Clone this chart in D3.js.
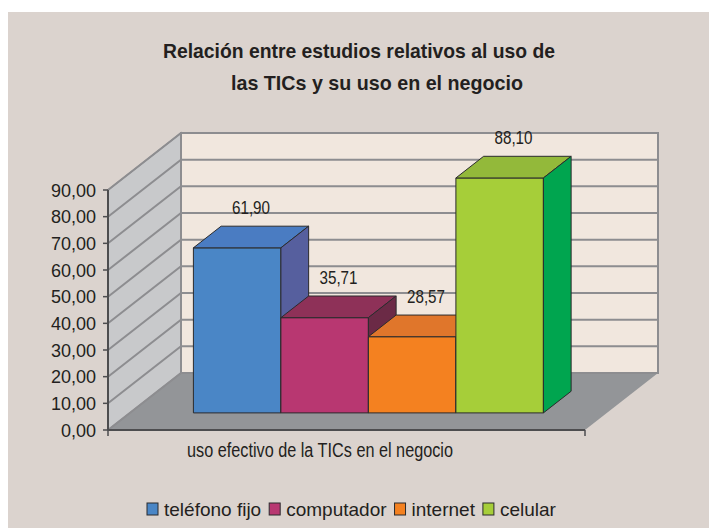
<!DOCTYPE html>
<html>
<head>
<meta charset="utf-8">
<script src="https://cdn.jsdelivr.net/npm/d3@7"></script>
<style>
  body { margin: 0; background: #fff; }
  text { fill: #231f20; }
</style>
</head>
<body>
<svg id="svg"></svg>
<script>
// data
const titleLines = ["Relación entre estudios relativos al uso de", "las TICs y su uso en el negocio"]
const category = "uso efectivo de la TICs en el negocio"
const series = ["teléfono fijo", "computador", "internet", "celular"]
const values = [61.90, 35.71, 28.57, 88.10]
const yTicks = [0, 10, 20, 30, 40, 50, 60, 70, 80, 90]

const frontColors = ["#4a86c6", "#b83771", "#f48120", "#a6ce39"]
const topColors = ["#4a7cc2", "#8e3158", "#e0762b", "#93b93a"]
const sideColors = ["#565f9e", "#6b2a46", "#c5621c", "#00a54f"]

const W = 709, H = 528
const font = "'Liberation Sans', Arial, sans-serif"
const svg = d3.select("#svg").attr("width", W).attr("height", H)

svg.append("rect").attr("x", 8).attr("y", 12).attr("width", W - 8).attr("height", H - 12)
    .attr("fill", "#dbd3ce")

// 3d frame
const x0 = 108, x1 = 585
const depthX = 73, depthY = -57
const y = d3.scaleLinear().domain([0, 90]).range([430, 190])
const fFront = 0.3, fBack = 0.68

const pt = (x, yy, f) => [x + f * depthX, yy + f * depthY]
const poly = pts => "M" + pts.map(p => p.join(",")).join("L") + "Z"

const gridColor = "#8d8d90"

// floor
svg.append("path")
    .attr("d", poly([pt(x0, y(0), 0), pt(x1, y(0), 0), pt(x1, y(0), 1), pt(x0, y(0), 1)]))
    .attr("fill", "#939598")

// left wall
svg.append("path")
    .attr("d", poly([pt(x0, y(0), 0), pt(x0, y(90), 0), pt(x0, y(90), 1), pt(x0, y(0), 1)]))
    .attr("fill", "#c8c9cb").attr("stroke", gridColor).attr("stroke-width", 1.5)

// back wall
svg.append("path")
    .attr("d", poly([pt(x0, y(0), 1), pt(x0, y(90), 1), pt(x1, y(90), 1), pt(x1, y(0), 1)]))
    .attr("fill", "#f1e7de").attr("stroke", gridColor).attr("stroke-width", 2)

// grid lines
yTicks.forEach(t => {
    const a = pt(x0, y(t), 0), b = pt(x0, y(t), 1), c = pt(x1, y(t), 1)
    svg.append("path").attr("d", `M${a}L${b}L${c}`)
        .attr("fill", "none").attr("stroke", gridColor).attr("stroke-width", 2)
})

// axes
const axisColor = "#4d4d4f"
svg.append("line").attr("x1", x0).attr("x2", x0).attr("y1", y(0)).attr("y2", y(90))
    .attr("stroke", axisColor).attr("stroke-width", 2)
svg.append("line").attr("x1", x0).attr("x2", x1).attr("y1", y(0)).attr("y2", y(0))
    .attr("stroke", axisColor).attr("stroke-width", 2)
;[x0, x1].forEach(xx => {
    svg.append("line").attr("x1", xx).attr("x2", xx).attr("y1", y(0)).attr("y2", y(0) + 6)
        .attr("stroke", axisColor).attr("stroke-width", 1.5)
})

const fmt = v => d3.format(".2f")(v).replace(".", ",")

yTicks.forEach(t => {
    svg.append("line").attr("x1", x0 - 5).attr("x2", x0).attr("y1", y(t)).attr("y2", y(t))
        .attr("stroke", axisColor).attr("stroke-width", 1.5)
    svg.append("text").attr("x", x0 - 12).attr("y", y(t) + 6.5)
        .attr("text-anchor", "end")
        .attr("font-family", font).attr("font-size", 18)
        .text(fmt(t))
})

// bars
const xb = d3.scaleBand().domain(series).range([171.5, 521.5])

series.forEach((s, i) => {
    const left = xb(s), right = left + xb.bandwidth()
    const v = values[i]
    const fb = pt(left, y(0), fFront), fr = pt(right, y(0), fFront)
    const ft = pt(left, y(v), fFront), frt = pt(right, y(v), fFront)
    const bt = pt(left, y(v), fBack), brt = pt(right, y(v), fBack)
    const brb = pt(right, y(0), fBack)
    const g = svg.append("g").attr("stroke", "#2b2b2d").attr("stroke-width", 1).attr("stroke-linejoin", "round")
    g.append("path").attr("d", poly([fb, ft, frt, fr])).attr("fill", frontColors[i])
    g.append("path").attr("d", poly([ft, bt, brt, frt])).attr("fill", topColors[i])
    g.append("path").attr("d", poly([fr, frt, brt, brb])).attr("fill", sideColors[i])

    const cx = (left + right) / 2 + ((fFront + fBack) / 2) * depthX
    svg.append("text").attr("x", cx - 19).attr("y", bt[1] - 12.5)
        .attr("font-family", font).attr("font-size", 18)
        .attr("textLength", 38).attr("lengthAdjust", "spacingAndGlyphs")
        .text(fmt(v))
})

// category label
svg.append("text").attr("x", 187).attr("y", 457)
    .attr("font-family", font).attr("font-size", 20)
    .attr("textLength", 266).attr("lengthAdjust", "spacingAndGlyphs")
    .text(category)

// title
const titleX = [163, 231], titleW = [392, 292]
titleLines.forEach((t, i) => {
    svg.append("text").attr("x", titleX[i]).attr("y", 58 + i * 32)
        .attr("font-family", font)
        .attr("font-weight", "bold").attr("font-size", 21)
        .attr("textLength", titleW[i]).attr("lengthAdjust", "spacingAndGlyphs")
        .text(t)
})

// legend
let lx = 147
const ly = 509
series.forEach((s, i) => {
    svg.append("rect").attr("x", lx).attr("y", ly - 6).attr("width", 11).attr("height", 12)
        .attr("fill", frontColors[i]).attr("stroke", "#2b2b2d").attr("stroke-width", 1)
    const tx = svg.append("text").attr("x", lx + 17).attr("y", ly + 6.5)
        .attr("font-family", font).attr("font-size", 19)
        .text(s)
    lx += 17 + tx.node().getComputedTextLength() + 8
})
</script>
</body>
</html>
